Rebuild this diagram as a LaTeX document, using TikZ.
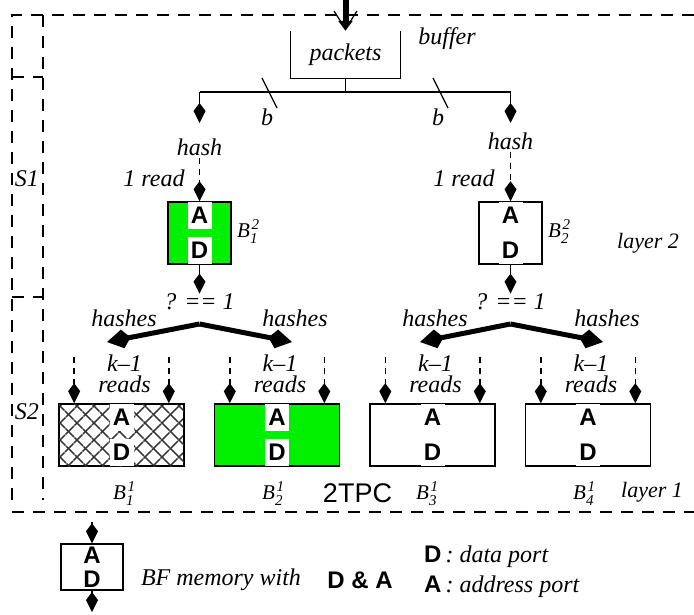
\documentclass[tikz,border=0pt]{standalone}
\usepackage{fontspec}
\setmainfont{Liberation Serif}
\setsansfont{Liberation Sans}
\usetikzlibrary{arrows.meta,positioning,patterns.meta}
\definecolor{memgreen}{HTML}{00F000}
\tikzset{
  lbl/.style={font=\itshape\fontsize{24}{21}\selectfont, inner sep=0pt},
  blbl/.style={font=\itshape\fontsize{21}{21}\selectfont, inner sep=0pt},
  memnode/.style={draw, line width=1.5pt, inner sep=0pt},
  memsmall/.style={memnode, minimum width=63pt, minimum height=62pt},
  membig/.style={memnode, minimum width=125pt, minimum height=62pt},
  port/.style={font=\sffamily\bfseries\fontsize{24}{24}\selectfont, inner sep=0pt,
    minimum width=24pt, minimum height=27pt, fill=white},
  portarr/.style={line width=1.5pt, -{Kite[length=20pt,width=12pt,inset=8pt]}},
  readarr/.style={portarr, dash pattern=on 6pt off 5pt},
  fatarr/.style={line width=5pt, -{Kite[length=24pt,width=19pt,inset=8pt]}},
  frame/.style={line width=1.5pt, dash pattern=on 12pt off 9pt},
  hatchbox/.style={pattern={Lines[angle=45,distance=13pt,line width=1.6pt]}, pattern color=black!80,
    postaction={pattern={Lines[angle=-45,distance=13pt,line width=1.6pt]}, pattern color=black!80}},
  greenbox/.style={fill=memgreen},
  whitebox/.style={fill=white}
}
\newcommand{\bmem}[2]{B\rlap{\kern1.5pt\raisebox{8pt}{\fontsize{15}{15}\selectfont#1}}\raisebox{-6pt}{\fontsize{15}{15}\selectfont#2}}

\begin{document}
\begin{tikzpicture}[x=1pt,y=-1pt]
  \useasboundingbox (0,0) rectangle (694,615);
  % stage frames
  \draw[frame] (694,15) -- (12,15) -- (12,500);
  \draw[frame] (43,15) -- (43,500);
  \draw[frame] (12,77) -- (43,77);
  \draw[frame] (12,297) -- (43,297);
  \draw[frame] (12,512) -- (694,512);
  \node[lbl] (s1) at (27,179) {S1};
  \node[lbl] (s2) at (27,412) {S2};

  % input buffer
  \node[lbl, minimum width=109pt, minimum height=47pt] (buf) at (345.5,54.5) {packets};
  \draw[line width=1.3pt] (buf.north west) -- (buf.south west) -- (buf.south east) -- (buf.north east);
  \node[lbl] (bufname) at (447,39) {buffer};
  \coordinate (in) at (345.5,0);
  \draw[line width=6pt, -{Triangle[length=10pt,width=14pt]}] (in) -- (buf.north);
  \draw[line width=1.2pt] (334,11) -- (345.5,29) -- (357,11);

  % bus to layer 2
  \coordinate (j0) at (345.5,92);
  \coordinate (jl) at (199.5,92);
  \coordinate (jr) at (510.5,92);
  \coordinate (hl) at (199.5,123);
  \coordinate (hr) at (510.5,123);
  \draw[line width=1.5pt] (buf.south) -- (j0);
  \draw[line width=2.5pt] (jl) -- (jr);
  \draw[portarr] (jl) -- (hl);
  \draw[portarr] (jr) -- (hr);
  \draw[line width=1.3pt] (262,78) -- (277,108);
  \draw[line width=1.3pt] (433,78) -- (448,108);
  \node[lbl] (bl) at (267,117) {b};
  \node[lbl] (br) at (438,117) {b};

  % layer 2
  \node[lbl] (h1) at (199.5,147) {hash};
  \node[lbl] (h2) at (510.5,141) {hash};
  \node[lbl] (r1) at (154,178) {1 read};
  \node[lbl] (r2) at (464,178) {1 read};
  \node[memsmall, greenbox] (m1) at (199.5,233) {};
  \node[memsmall, whitebox] (m2) at (510.5,233) {};
  \foreach \m in {m1,m2} {
    \node[port, anchor=north] (\m a) at ([yshift=-0.75pt]\m.north) {A};
    \node[port, anchor=south] (\m d) at ([yshift=0.75pt]\m.south) {D};
  }
  \draw[readarr, shorten <=2pt] (h1.south) -- (m1.north);
  \draw[readarr, shorten <=2pt] (h2.south) -- (m2.north);
  \node[blbl, anchor=west] (l12) at (237,232) {\bmem{2}{1}};
  \node[blbl, anchor=west] (l22) at (548,232) {\bmem{2}{2}};
  \node[lbl, font=\itshape\fontsize{22}{22}\selectfont] (lay2) at (648,243) {layer 2};

  % check and split
  \node[lbl] (q1) at (199.5,302) {? == 1};
  \node[lbl] (q2) at (510.5,302) {? == 1};
  \draw[portarr] (m1.south) -- (q1.north);
  \draw[portarr] (m2.south) -- (q2.north);
  \coordinate (v1) at (199.5,324);
  \coordinate (v2) at (510.5,324);
  \coordinate (t1) at (107,342);
  \coordinate (t2) at (292,342);
  \coordinate (t3) at (420,342);
  \coordinate (t4) at (603,342);
  \draw[fatarr] (v1) -- (t1);
  \draw[fatarr] (v1) -- (t2);
  \draw[fatarr] (v2) -- (t3);
  \draw[fatarr] (v2) -- (t4);
  \node[lbl] (hs1) at (124,318) {hashes};
  \node[lbl] (hs2) at (295,318) {hashes};
  \node[lbl] (hs3) at (435,318) {hashes};
  \node[lbl] (hs4) at (607,318) {hashes};

  % layer 1
  \foreach \i/\x/\sty in {1/121.5/hatchbox, 2/277/greenbox, 3/432.5/whitebox, 4/588/whitebox} {
    \node[membig, \sty] (n\i) at (\x,435) {};
    \node[port, anchor=north] (n\i a) at ([yshift=-0.75pt]n\i.north) {A};
    \node[port, anchor=south] (n\i d) at ([yshift=0.75pt]n\i.south) {D};
    \draw[readarr] ([xshift=16pt,yshift=46pt]n\i.north west) -- ([xshift=16pt]n\i.north west);
    \draw[readarr] ([xshift=-16pt,yshift=46pt]n\i.north east) -- ([xshift=-16pt]n\i.north east);
    \node[lbl, align=center] (k\i) at ([xshift=3pt,yshift=29pt]n\i.north) {k--1\\reads};
  }
  \node[blbl, anchor=west] (l11) at (113,494) {\bmem{1}{1}};
  \node[blbl, anchor=west] (l21) at (262,494) {\bmem{1}{2}};
  \node[blbl, anchor=west] (l31) at (416,494) {\bmem{1}{3}};
  \node[blbl, anchor=west] (l41) at (573,494) {\bmem{1}{4}};
  \node[font=\sffamily\fontsize{27}{27}\selectfont, inner sep=0pt] (tpc) at (357.5,493) {2TPC};
  \node[lbl, font=\itshape\fontsize{22}{22}\selectfont] (lay1) at (652,492) {layer 1};

  % legend
  \node[memnode, minimum width=62pt, minimum height=46pt] (lg) at (92,567) {};
  \node[port, fill=none, minimum height=23pt, anchor=north] (lga) at (lg.north) {A};
  \node[port, fill=none, minimum height=23pt, anchor=south] (lgd) at (lg.south) {D};
  \coordinate (li) at (92,522);
  \coordinate (lo) at (92,612);
  \draw[portarr] (li) -- (lg.north);
  \draw[portarr] (lg.south) -- (lo);
  \node[lbl] (lgtxt) at (221,580) {BF memory with};
  \node[port, fill=none] (lgda) at (360,580) {D \& A};
  \node[lbl, anchor=west] (lgd2) at (424,557) {\textup{\sffamily\bfseries D}\,: data port};
  \node[lbl, anchor=west] (lga2) at (424,587) {\textup{\sffamily\bfseries A}\,: address port};
\end{tikzpicture}
\end{document}
